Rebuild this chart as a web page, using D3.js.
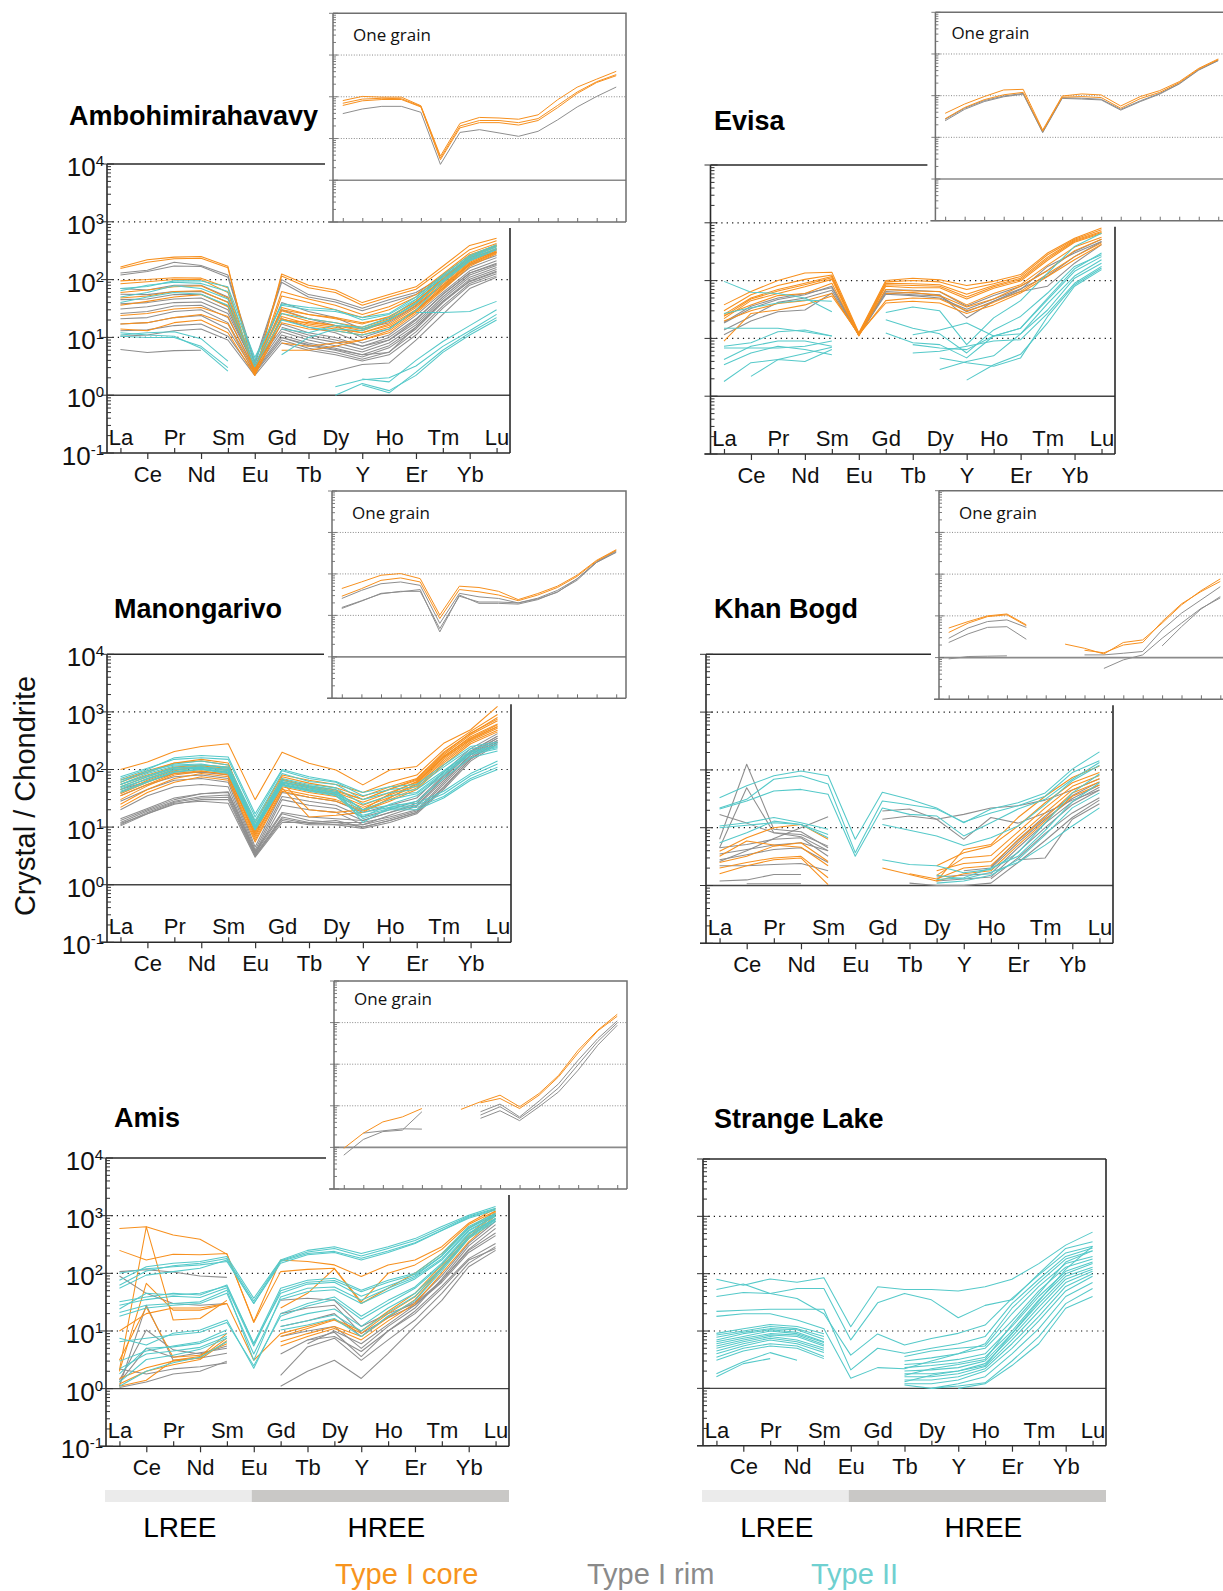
<!DOCTYPE html>
<html>
<head>
<meta charset="utf-8">
<script src="https://cdn.jsdelivr.net/npm/d3@7"></script>
<style>
  body { margin: 0; background: #fff; }
</style>
</head>
<body>
<script>
const _ = null

// element order on the x axis
const elements = ['La','Ce','Pr','Nd','Sm','Eu','Gd','Tb','Dy','Y','Ho','Er','Tm','Yb','Lu']
const upperRow = ['La','Pr','Sm','Gd','Dy','Ho','Tm','Lu']
const lowerRow = ['Ce','Nd','Eu','Tb','Y','Er','Yb']
const decades = [0.1, 1, 10, 100, 1000, 10000]
const gridDecades = [10, 100, 1000]
const reeGroups = ['LREE', 'HREE']
const legendLabels = ['Type I core', 'Type I rim', 'Type II']

// ---------- Ambohimirahavavy ----------
const amboCore = [
  [165,220,245,250,170,2.2,125,80,66,40,55,75,170,390,520],
  [155,200,230,235,160,2.3,115,72,60,36,50,68,150,330,470],
  [95,100,108,106,72,2.5,62,46,36,25,34,55,125,290,420],
  [85,92,100,100,60,2.4,52,40,30,22,30,50,118,270,390],
  [60,66,75,78,48,2.7,33,25,21,17,23,42,100,240,370],
  [48,52,62,64,40,2.9,29,21,18,15,21,38,92,225,345],
  [36,42,50,55,34,3.1,26,19,16,13,19,36,86,210,330],
  [24,26,31,33,23,2.6,23,17,15,12,17,33,80,200,315],
  [17,18,22,25,17,2.3,21,16,14,12,16,30,76,190,300],
  [14,13,18,20,12,2.2,18,14,13,11,15,28,70,180,290],
  [_,_,_,_,_,_,8,7,8,9,12,26,66,170,280],
  [_,_,_,_,_,_,6,6,7,9,13,28,72,190,300],
  [_,_,_,_,_,_,30,25,22,18,22,42,105,255,385],
  [_,_,_,_,_,_,20,18,16,14,20,40,100,250,400]
]
const amboRim = [
  [130,145,200,175,120,3.8,100,55,45,32,45,60,112,240,330],
  [120,138,172,168,110,3.4,90,50,41,29,40,55,100,220,300],
  [70,66,80,80,50,3.0,40,28,22,14,18,35,80,180,260],
  [56,55,62,62,41,3.0,30,21,16,10,14,30,70,160,240],
  [45,46,55,56,35,2.8,21,15,12,8,11,24,60,142,212],
  [38,40,46,48,30,3.0,17,12,10,7,10,21,55,130,192],
  [31,34,40,41,26,3.2,14,10,8.2,6.2,9,18,50,120,176],
  [26,28,35,36,22,2.8,12.5,9,7.2,5.6,8,16.5,46,110,162],
  [21,22,28,30,18,2.6,11,8,6.5,5,7.2,15,42,101,150],
  [17,18,22,24,14,2.5,10,7.2,6,4.6,6.6,14,40,95,140],
  [13,13.5,16,17,10.5,2.4,9,6.5,5.5,4.2,5.6,12.5,35,86,126],
  [10.5,11,13,14,9,2.2,8,6,5,3.9,5,11,32,80,116],
  [6.2,5.5,5.9,6,_,_,_,_,_,_,_,_,_,_,_],
  [_,_,_,_,_,_,_,2,2.6,3.4,3.6,9,25,70,110],
  [_,_,_,_,_,_,10,7.5,6.2,5,5.5,15,42,92,135],
  [_,_,_,_,_,_,15,11,9,7,9,20,56,130,185]
]
const amboII = [
  [70,76,95,95,75,4.5,36,30,28,22,26,50,120,262,400],
  [64,80,90,86,62,4.0,38,33,30,20,25,46,112,240,370],
  [50,60,78,70,46,3.5,26,21,18,14,20,38,100,230,350],
  [40,50,60,56,36,3.1,20,15,13,11,14,30,90,210,330],
  [10.5,10,10,7,3,_,_,_,_,_,_,_,_,_,_],
  [11,12,12.5,9.5,3.9,_,_,_,_,_,_,_,_,_,_],
  [12,11,10.5,6.5,2.6,_,_,_,_,_,_,_,_,_,_],
  [_,_,_,_,_,_,_,_,1.4,1.85,2.0,3.2,7,13,25],
  [_,_,_,_,_,_,_,_,_,1.5,1.1,2.5,6,12,22],
  [_,_,_,_,_,_,_,_,1.0,1.6,1.2,2.2,5.5,11,20],
  [_,_,_,_,_,_,_,_,_,1.9,1.7,4,8.5,16,30],
  [_,_,_,_,_,_,_,_,_,_,_,27,27,28,42],
  [_,_,_,_,_,_,14,12,16,15,22,45,110,250,380],
  [_,_,_,_,_,_,5,10,14,13,20,40,95,220,330]
]
const amboInsetCore = [
  [81,102,98,98,61,3.8,23,32,31,29,37,85,170,265,407],
  [70,88,92,90,59,3.4,20,27,27,24,30,62,130,230,340],
  [62,80,86,86,57,3.1,18,24,24,21,27,55,120,220,320]
]
const amboInsetRim = [
  [39.5,51,59,59,42.5,2.4,14,16.3,13.6,11.3,14.9,28,57,102,171]
]

// ---------- Evisa ----------
const evisaCore = [
  [38,65,100,135,140,12.5,100,110,103,82,97,127,300,540,810],
  [30,57,82,105,125,12,95,100,95,70,88,118,280,520,760],
  [26,50,70,90,118,11.6,90,88,85,58,82,110,255,500,710],
  [24,48,66,85,112,11.4,85,82,80,52,78,104,240,480,680],
  [22,45,60,78,105,11.2,80,75,75,48,74,98,225,460,650],
  [25,38,55,60,90,11,70,66,65,38,60,85,185,380,560],
  [9,27,31,38,54,12,41,44,41,27,38,61,118,230,420],
  [20,30,40,45,60,11.5,45,50,48,30,42,65,130,260,450],
  [_,_,_,_,_,_,60,62,55,35,48,80,150,330,520]
]
const evisaRim = [
  [18.5,33,47,57,80,11.6,61,57,54,29,44,70,176,300,475],
  [11.6,20,29,31,61,11.5,65,61,57,22.6,44,65,80,200,420],
  [19,36,50,60,75,11.5,70,68,64,36,55,80,150,320,520],
  [14,24,42,50,68,11.3,58,55,50,32,48,72,120,260,470]
]
const evisaII = [
  [97,63,60,50,29,_,_,_,_,_,_,_,_,_,_],
  [15,15,15,13,11,_,_,_,_,_,_,_,_,_,_],
  [7.3,8.4,13,14,11,_,_,_,_,_,_,_,_,_,_],
  [6.8,6.8,6.8,7.3,9,_,_,_,_,_,_,_,_,_,_],
  [4.3,7.3,9,9,7.3,_,_,_,_,_,_,_,_,_,_],
  [3.5,5.6,7.3,6.4,5.2,_,_,_,_,_,_,_,_,_,_],
  [1.8,3.8,4.3,4,6.4,_,_,_,_,_,_,_,_,_,_],
  [_,2.2,4.3,5.5,7,_,_,_,_,_,_,_,_,_,_],
  [27,34,41,46,44,_,_,_,_,_,_,_,_,_,_],
  [_,_,_,_,_,_,28,35,30,7.8,22.6,45,135,390,660],
  [_,_,_,_,_,_,21,15,12,5.6,14,24,61,176,280],
  [_,_,_,_,_,_,12.4,8.4,7.8,4.6,11,15,47,145,260],
  [_,_,_,_,_,_,_,7.8,6.8,6.4,11,12,31,110,200],
  [_,_,_,_,_,_,_,5.6,6,7.3,9,9.5,27,90,176],
  [_,_,_,_,_,_,_,_,4.6,3.8,3.3,4.6,24,85,165],
  [_,_,_,_,_,_,_,_,2.9,4,5,12,40,120,230],
  [_,_,_,_,_,_,_,_,_,1.9,3.5,5.3,18.5,80,155],
  [_,_,_,_,_,_,_,11.6,14,18.5,11,15,50,160,300]
]
const evisaInsetCore = [
  [37.7,63,95,137,142,15,98,110,104,56.5,95,132,217,453,760],
  [28,52,80,105,120,14,92,95,90,50,85,120,205,435,730]
]
const evisaInsetRim = [
  [25,47,72,94,109,12.9,86,83,79,45,72,109,190,410,690],
  [27,50,76,98,113,13.5,89,87,82,47,75,113,196,420,705]
]

// ---------- Manongarivo ----------
const manonCore = [
  [100,135,205,250,280,30,200,128,98,54,98,113,285,490,1250],
  [66,95,130,150,130,10,75,58,48,34,50,70,200,420,800],
  [55,80,110,120,110,9,68,52,44,30,45,65,180,400,700],
  [45,70,100,110,100,8,60,48,40,27,40,60,165,370,620],
  [38,60,90,100,90,7,55,44,37,24,36,55,150,340,560],
  [30,52,80,92,85,6.5,50,40,34,22,33,52,140,320,520],
  [25,45,70,85,75,6,45,36,30,20,30,48,130,300,480],
  [22,40,60,75,65,5.5,42,33,28,19,28,45,120,280,450],
  [60,90,130,140,120,12,80,65,55,40,60,80,220,460,900],
  [40,65,95,110,95,8.5,60,20,18,20,38,62,170,350,600],
  [35,55,85,95,80,7.5,48,15,16,18,32,58,160,330,550],
  [50,75,105,115,105,9.5,65,50,42,30,46,68,190,430,750]
]
const manonRim = [
  [13,20,30,38,40,3.5,17,13,12,12,15,20,60,180,350],
  [12,19,28,34,36,3.3,15,12,11,11,14,19,55,165,320],
  [11,18,27,32,33,3.2,14,11.5,12,10,13,18,50,150,300],
  [10.5,17,25,30,30,3.1,13,11,11,9.5,12,17,45,140,280],
  [11.5,17,26,28,26,3,12,12,13,10,13,18,48,155,300],
  [14,21,32,38,41,3.8,18,15,14,13,18,24,70,200,380],
  [45,62,85,90,80,4.5,40,33,28,18,24,32,90,230,420],
  [35,55,75,80,70,4,34,28,24,15,20,28,80,210,380],
  [28,45,65,70,60,3.6,30,24,21,13,18,26,75,195,350],
  [20,35,50,55,50,3.4,24,20,18,11,16,23,65,180,320]
]
const manonII = [
  [70,100,160,175,165,17,100,75,62,40,50,55,120,250,300],
  [75,105,150,160,150,15,95,70,60,35,45,50,110,230,280],
  [65,90,125,140,120,13,85,62,55,30,40,45,95,210,260],
  [55,85,115,120,110,12,70,55,48,25,35,40,90,200,250],
  [50,75,105,110,100,10,60,50,42,20,30,38,85,190,240],
  [45,70,100,105,90,9,55,45,38,15,25,35,80,180,230],
  [60,95,120,125,105,11,65,52,45,12,22,28,70,160,210],
  [40,60,90,100,85,9,52,42,35,14,20,20,32,65,100],
  [42,62,92,102,88,9.5,54,43,36,16,21,22,34,70,110],
  [48,68,98,108,95,10,58,46,39,18,22,24,38,78,125],
  [55,78,108,112,100,10.5,62,48,40,20,24,26,42,85,140]
]
const manonInsetCore = [
  [44.5,64,93,102,77,10.2,50.6,47,38,24,33.7,50.6,93,213,384],
  [29,44,70,80,64,8.4,42,37,31,22.6,31,47,87,204,370]
]
const manonInsetRim = [
  [25.6,40,58,64,53,6.4,34,28,25.6,20,26,40,76,190,340],
  [14.7,22,34,37,42,4,31,19.5,19.5,18.7,24,37,70,190,330],
  [15.5,22.5,33,38,38,4.8,29,21,21,20,25,36,76,195,360]
]

// ---------- Khan Bogd ----------
const khanCore = [
  [3.9,6.7,10,11.4,6.3,_,_,_,_,_,_,_,_,_,_],
  [2.5,3.2,4.8,5.5,2.6,_,_,_,_,_,_,_,_,_,_],
  [2.0,2.5,3.0,3.2,1.36,_,_,_,_,_,_,_,_,_,_],
  [1.6,2.2,2.8,3.0,1.04,_,_,_,_,_,_,_,_,_,_],
  [3.2,5.9,5,4.6,2.2,_,_,_,_,_,_,_,_,_,_],
  [_,_,_,_,_,_,2.0,1.55,1.2,4.2,5.1,15,35,74,117],
  [_,_,_,_,_,_,_,_,2.2,3.7,4.8,10.7,27,60,90],
  [_,_,_,_,_,_,_,_,1.5,3.0,3.3,8.5,22,52,80],
  [_,_,_,_,_,_,_,_,1.8,2.4,2.6,7,18,45,70],
  [_,_,_,_,_,_,_,1.6,1.3,2,2.2,6,15,40,62],
  [_,_,_,_,_,_,_,_,1.2,1.6,1.8,5,13,35,55]
]
const khanRim = [
  [6.3,125,9.4,8.5,4.5,_,_,_,_,_,_,_,_,_,_],
  [4.5,49,8.2,7,4,_,_,_,_,_,_,_,_,_,_],
  [17,12,8.2,7.6,4.8,_,_,_,_,_,_,_,_,_,_],
  [4.5,5.1,6.3,6.7,3.2,_,_,_,_,_,_,_,_,_,_],
  [2.8,3.4,4.2,4.5,2.5,_,_,_,_,_,_,_,_,_,_],
  [2.2,2.2,2.3,2.4,1.8,_,_,_,_,_,_,_,_,_,_],
  [1.2,1.25,1.55,1.55,_,_,_,_,_,_,_,_,_,_,_],
  [_,1.07,1.07,1.07,_,_,_,_,_,_,_,_,_,_,_],
  [2.6,4,6.5,10,15.5,_,_,_,_,_,_,_,_,_,_],
  [3.5,4.2,5.0,5.5,4,_,_,_,_,_,_,_,_,_,_],
  [_,_,_,_,_,_,19.5,21,14,6.3,15,12,18,30,45],
  [_,_,_,_,_,_,14,16,14,17,22,24,30,45,70],
  [_,_,_,_,_,_,_,1.1,1.0,1.0,1.1,2.5,6,15,30],
  [_,_,_,_,_,_,_,_,_,_,1.3,3,8,18,33],
  [_,_,_,_,_,_,_,_,1.2,1.3,1.4,3.8,10,25,45],
  [_,_,_,_,_,_,_,_,1.4,1.5,1.6,4.5,12,28,50],
  [_,_,_,_,_,_,_,_,_,1.8,2,5.5,14,32,55],
  [_,_,_,_,_,_,_,_,_,_,2.1,6.2,16,36,62],
  [_,_,_,_,_,_,_,_,_,_,_,2.8,3,14,26]
]
const khanII = [
  [33,53,79,96,79,6.3,41,31,22,12.2,21,27,40,103,205],
  [22,31,69,79,57,3.7,29,25,21,12.5,18,24,35,90,144],
  [21,29,43,46,38,3.2,22,17,16,7.2,12.2,21,31,69,134],
  [10.7,12.2,15,12.2,9.4,_,11.4,9,7.2,4.9,6.7,10.7,25,65,120],
  [5.5,8.2,13,11.4,6.7,_,_,_,_,_,_,_,_,_,_],
  [10,11,12.2,11.4,7.6,_,_,_,_,_,_,_,_,_,_],
  [_,_,_,_,_,_,2.8,2.3,2.2,1.66,1.9,3.7,12,40,85],
  [_,_,_,_,_,_,_,_,1.27,1.36,2.0,3.2,9,28,60],
  [_,_,_,_,_,_,_,_,1.1,1.2,1.5,2.8,7.5,22,40],
  [_,_,_,_,_,_,_,_,1.5,1.3,1.7,2.5,5,10.7,22]
]
const khanInsetCore = [
  [5.1,7.3,10,11.1,6.1,_,2.1,1.67,1.22,2.3,2.65,6.7,18.3,40,77],
  [4,6.7,9.6,10.6,5.8,_,_,1.5,1.3,2.0,2.3,7.3,19.4,38,67]
]
const khanInsetRim = [
  [2.9,5.1,7.3,8,5.3,_,_,1.16,1.16,1.27,1.4,4.6,11.6,24,50],
  [2.3,3.7,5.3,5.5,2.75,_,_,_,0.55,0.88,1.16,2.9,6.7,15,27],
  [0.93,1.06,1.08,1.1,_,_,_,_,_,_,_,_,_,_,_],
  [_,_,_,_,_,_,_,_,_,_,_,1.9,5.5,14.5,29]
]

// ---------- Amis ----------
const amisCore = [
  [600,640,460,390,215,14.5,170,160,140,88,140,170,290,740,1330],
  [250,170,215,210,220,14,107,117,122,32,100,140,260,700,1200],
  [2.1,640,15.5,16.5,34,_,_,_,_,_,_,_,_,_,_],
  [2,67,23,23,30,_,_,_,_,_,_,_,_,_,_],
  [1.1,1.4,3.1,3.6,9.1,_,_,_,_,_,_,_,_,_,_],
  [3.1,26,3.5,3.8,6,_,_,_,_,_,_,_,_,_,_],
  [1.5,2.3,3.0,3.4,7.5,_,_,_,_,_,_,_,_,_,_],
  [1.2,2,2.6,3.2,6.8,_,_,_,_,_,_,_,_,_,_],
  [_,_,_,_,_,_,8,11,15.5,9.1,20,39,130,430,1100],
  [_,_,_,_,_,_,6.5,9,12,8,17,35,120,400,1000],
  [_,_,_,_,_,_,5.5,8,11,7,15,30,100,350,900],
  [_,_,_,_,_,_,25,45,120,30,55,100,220,600,1200],
  [10,20,25,25,30,3.1,9,12,16,10,22,45,140,470,1150]
]
const amisRim = [
  [107,115,105,90,85,_,_,_,_,_,_,_,_,_,_],
  [90,45,30,28,30,_,_,_,_,_,_,_,_,_,_],
  [1.1,28,3.1,3.4,4.1,_,_,_,_,_,_,_,_,_,_],
  [1.4,10.4,4.7,4,5.5,_,_,_,_,_,_,_,_,_,_],
  [1.3,5,3.5,4.2,5,_,_,_,_,_,_,_,_,_,_],
  [2.2,1.8,2.2,2.4,2.8,_,_,_,_,_,_,_,_,_,_],
  [1.05,1.3,1.8,2,3,_,_,_,_,_,_,_,_,_,_],
  [_,_,_,_,_,_,34,37,34,12,20,30,75,250,500],
  [_,_,_,_,_,_,20,25,28,9,17,28,70,230,450],
  [_,_,_,_,_,_,1.1,2,3.1,1.5,4.1,12,34,130,250],
  [_,_,_,_,_,_,1.7,5.3,7.5,3.1,7,15.5,45,150,290],
  [_,_,_,_,_,_,_,7,8,4.4,10,22,60,180,330],
  [_,_,_,_,_,_,_,6,10,6,13,28,75,260,600],
  [_,_,_,_,_,_,12,15,20,8,18,32,90,330,800],
  [_,_,_,_,_,_,8,10,12,5,12,25,80,300,700],
  [_,_,_,_,_,_,4,7,9.5,3.6,10,20,55,170,270]
]
const amisII = [
  [76,130,150,160,195,37,170,250,290,220,290,400,650,1020,1440],
  [62,110,135,150,180,33,165,235,270,200,270,370,600,980,1350],
  [55,93,107,122,170,30,160,220,240,182,245,340,560,940,1300],
  [100,120,130,140,160,30,150,210,230,170,230,330,550,900,1250],
  [32,39,45,42,63,6.1,55,76,82,51,76,100,220,650,1100],
  [28,35,40,38,56,5.5,50,70,75,48,70,95,200,600,1050],
  [24,45,42,45,60,6,45,65,70,40,60,90,200,620,1050],
  [21,28,30,32,51,3.1,39,55,58,34,55,85,180,560,1000],
  [18,25,28,30,45,4,35,48,52,30,50,80,170,540,980],
  [7.5,5.7,9.1,10.4,15.5,2.25,20,30,39,18,34,58,150,500,900],
  [6.5,7.5,8.5,9.5,14,2.5,18,27,35,16,30,55,140,480,880],
  [1.8,5,5.3,6.1,9.1,_,_,_,_,_,_,_,_,_,_],
  [2.2,4,4.5,5.2,8,_,_,_,_,_,_,_,_,_,_],
  [1.3,3.2,3.8,4.8,7.5,_,_,_,_,_,_,_,_,_,_],
  [1.1,2,2.8,3.5,6.5,_,_,_,_,_,_,_,_,_,_],
  [3,4.5,5.5,6.5,10.5,_,_,_,_,_,_,_,_,_,_],
  [_,_,_,_,_,_,10.4,12.7,16.5,8,18,34,110,400,800],
  [_,_,_,_,_,_,12,15,19,10,21,40,120,420,850],
  [_,_,_,_,_,_,15,20,24,12,25,45,125,440,880]
]
const amisInsetCore = [
  [0.95,2.2,4.1,5.4,8.6,_,8.2,12.5,18,9.5,19.8,54,217,655,1585],
  [_,_,_,_,_,_,_,11.8,15,8.6,18,50,187,630,1420]
]
const amisInsetRim = [
  [0.65,1.55,2.4,2.6,7.2,_,_,_,_,_,_,_,_,_,_],
  [_,2.2,2.5,2.8,2.75,_,_,_,_,_,_,_,_,_,_],
  [_,_,_,_,_,_,_,7.2,11,5.4,13,34,125,410,1100],
  [_,_,_,_,_,_,_,5,7.6,4.4,9.5,21.6,72,285,860],
  [_,_,_,_,_,_,_,6,9.5,5,11,27,98,350,980]
]

// ---------- Strange Lake ----------
const strangeII = [
  [80,63,81,71,85,11.9,59,53,53,50,59,80,150,315,530],
  [53,66,45,55,55,7,31,45,35,17,28,35,100,275,360],
  [40,47,45,37,20,3.8,8.9,5.7,7.4,9.1,12.7,37,95,230,300],
  [22,23,24,24,24,2.1,5,4.1,5,6,8,30,80,200,280],
  [18,20,20,15.5,11,1.5,2.3,2.2,3,4,6,25,70,180,250],
  [9.1,11,13,12,9,_,_,_,_,_,_,_,_,_,_],
  [8.5,10,12,11,8,_,_,_,_,_,_,_,_,_,_],
  [7.8,9.5,11,10.5,7.2,_,_,_,_,_,_,_,_,_,_],
  [7,9,10.5,9.5,6.5,_,_,_,_,_,_,_,_,_,_],
  [6.5,8,10,9,6.3,_,_,_,_,_,_,_,_,_,_],
  [6,7.5,9,8.5,5.8,_,_,_,_,_,_,_,_,_,_],
  [5.5,7,8.5,8,5.5,_,_,_,_,_,_,_,_,_,_],
  [5,6.5,8,7,5,_,_,_,_,_,_,_,_,_,_],
  [4.5,6,7.5,6.5,4.6,_,_,_,_,_,_,_,_,_,_],
  [4,5.5,7,6,4.2,_,_,_,_,_,_,_,_,_,_],
  [3.5,5,6,5.5,3.6,_,_,_,_,_,_,_,_,_,_],
  [3.1,4.5,5.5,5,3.3,_,_,_,_,_,_,_,_,_,_],
  [1.8,2.9,4.2,3.1,_,_,_,_,_,_,_,_,_,_,_],
  [1.6,2.7,3.3,_,_,_,_,_,_,_,_,_,_,_,_],
  [_,_,_,_,_,_,_,3.6,4.5,5,5.5,20,60,150,200],
  [_,_,_,_,_,_,_,3,3.4,4,5,15,50,130,180],
  [_,_,_,_,_,_,_,2.6,2.8,3.2,4,12,40,110,160],
  [_,_,_,_,_,_,_,2.3,2.5,2.8,3.5,10,35,100,150],
  [_,_,_,_,_,_,_,2,2.1,2.3,3,9,30,90,130],
  [_,_,_,_,_,_,_,1.8,1.8,2,2.7,8,26,80,120],
  [_,_,_,_,_,_,_,1.6,1.6,1.8,2.4,7,22,70,110],
  [_,_,_,_,_,_,_,1.4,1.4,1.6,2.2,6,18,60,100],
  [_,_,_,_,_,_,_,1.2,1.2,1.4,2,5,15,50,90],
  [_,_,_,_,_,_,_,1.14,1.0,1.2,1.6,4,11,40,70],
  [_,_,_,_,_,_,_,_,1.0,1.1,1.25,3,8,30,55],
  [_,_,_,_,_,_,_,_,_,1.0,1.2,2.5,6,25,40],
  [_,_,_,_,_,_,_,1.7,2.2,2.6,3.2,13,45,160,250],
  [_,_,_,_,_,_,_,1.3,1.7,2.0,2.5,9,33,120,300]
]

const colors = { core: '#f7901e', rim: '#8e8e8e', type2: '#55c9c9' }
const legendColors = ['#f7941d', '#8a8a8a', '#6fd0d0']
const FONT = '"Liberation Sans", Arial, Helvetica, sans-serif'

const panels = [
  { title: 'Ambohimirahavavy', tx: 69, ty: 125, left: 107, right: 510, top: 164, bottom: 453, labels: true,
    series: [[amboRim, 'rim'], [amboCore, 'core'], [amboII, 'type2']],
    inset: { left: 333, right: 626, top: 13.3, bottom: 222, tdy: 28,
             series: [[amboInsetRim, 'rim'], [amboInsetCore, 'core']] } },
  { title: 'Evisa', tx: 714, ty: 130, left: 710.5, right: 1115, top: 165, bottom: 454, labels: false,
    series: [[evisaRim, 'rim'], [evisaCore, 'core'], [evisaII, 'type2']],
    inset: { left: 935.4, right: 1228, top: 12.3, bottom: 220.7, tdy: 27, tdx: 16,
             series: [[evisaInsetRim, 'rim'], [evisaInsetCore, 'core']] } },
  { title: 'Manongarivo', tx: 114, ty: 618, left: 107, right: 511, top: 654.3, bottom: 942.3, labels: true,
    series: [[manonRim, 'rim'], [manonCore, 'core'], [manonII, 'type2']],
    inset: { left: 332, right: 626, top: 491, bottom: 698.3, tdy: 28,
             series: [[manonInsetRim, 'rim'], [manonInsetCore, 'core']] } },
  { title: 'Khan Bogd', tx: 714, ty: 618, left: 706, right: 1113, top: 654.3, bottom: 943.3, labels: false,
    series: [[khanRim, 'rim'], [khanCore, 'core'], [khanII, 'type2']],
    inset: { left: 939, right: 1230, top: 490.7, bottom: 699.3, tdy: 28.6,
             series: [[khanInsetRim, 'rim'], [khanInsetCore, 'core']] } },
  { title: 'Amis', tx: 114, ty: 1127, left: 106, right: 509, top: 1158, bottom: 1446.3, labels: true, ree: true,
    series: [[amisRim, 'rim'], [amisCore, 'core'], [amisII, 'type2']],
    inset: { left: 334, right: 627, top: 981, bottom: 1189, tdy: 24,
             series: [[amisInsetRim, 'rim'], [amisInsetCore, 'core']] } },
  { title: 'Strange Lake', tx: 714, ty: 1128, left: 703, right: 1106, top: 1159, bottom: 1445.7, labels: false, ree: true,
    series: [[strangeII, 'type2']] }
]

const svg = d3.select('body').append('svg')
    .attr('width', 1223)
    .attr('height', 1591)
    .style('display', 'block')

function drawSeries(g, series, x, y, width) {
  var line = d3.line()
      .defined(d => d != null)
      .x((d, i) => x(elements[i]))
      .y(d => y(d))
  series.forEach(function(s) {
    g.append('g').selectAll('path')
      .data(s[0])
      .join('path')
        .attr('d', line)
        .attr('fill', 'none')
        .attr('stroke', colors[s[1]])
        .attr('stroke-width', width)
        .attr('stroke-linejoin', 'round')
  })
}

function isDecade(v) {
  var l = Math.log10(v)
  return Math.abs(l - Math.round(l)) < 1e-6
}

function drawPanel(p) {
  var g = svg.append('g')
  var x = d3.scalePoint().domain(elements).range([p.left, p.right]).padding(0.5)
  var y = d3.scaleLog().domain([0.1, 1e4]).range([p.bottom, p.top])

  // dotted grid
  g.selectAll('line.grid')
    .data(gridDecades)
    .join('line')
      .attr('x1', p.left).attr('x2', p.right)
      .attr('y1', d => y(d)).attr('y2', d => y(d))
      .attr('stroke', '#111')
      .attr('stroke-width', 1.2)
      .attr('stroke-dasharray', '1.2,4.2')
  g.append('line')
    .attr('x1', p.left).attr('x2', p.right)
    .attr('y1', y(1)).attr('y2', y(1))
    .attr('stroke', '#444').attr('stroke-width', 1.4)

  drawSeries(g, p.series, x, y, 1.05)

  // frame
  var topEnd = p.inset ? p.inset.left - 8 : p.right
  var rightStart = p.inset ? p.inset.bottom + 6 : p.top
  var frame = 'M' + p.left + ',' + p.top + 'H' + topEnd +
              'M' + p.right + ',' + rightStart + 'V' + p.bottom +
              'M' + p.left + ',' + p.top + 'V' + p.bottom +
              'M' + (p.left - 6) + ',' + p.bottom + 'H' + p.right
  g.append('path').attr('d', frame).attr('fill', 'none')
    .attr('stroke', '#2a2a2a').attr('stroke-width', 1.6)

  // y ticks: major crossing, minor inside
  g.append('g').selectAll('line')
    .data(y.ticks())
    .join('line')
      .attr('x1', d => isDecade(d) ? p.left - 6 : p.left)
      .attr('x2', d => isDecade(d) ? p.left + 7 : p.left + 4)
      .attr('y1', d => y(d)).attr('y2', d => y(d))
      .attr('stroke', '#333').attr('stroke-width', 1)

  if (p.labels) {
    var lab = g.append('g').selectAll('text')
      .data(decades)
      .join('text')
        .attr('x', p.left - 3)
        .attr('y', d => y(d) + 12)
        .attr('text-anchor', 'end')
        .attr('font-family', FONT)
        .attr('font-size', 26)
        .attr('fill', '#111')
        .text('10')
    lab.append('tspan')
      .attr('font-size', 15)
      .attr('dy', -10)
      .text(d => String(Math.round(Math.log10(d))))
  }

  // x axis: lower row labels below, upper row labels inside
  var axLow = g.append('g')
      .attr('transform', 'translate(0,' + p.bottom + ')')
      .call(d3.axisBottom(x).tickValues(lowerRow).tickSize(6).tickPadding(7))
  var axUp = g.append('g')
      .attr('transform', 'translate(0,' + p.bottom + ')')
      .call(d3.axisTop(x).tickValues(upperRow).tickSize(5).tickPadding(3))
  ;[axLow, axUp].forEach(function(a) {
    a.select('.domain').remove()
    a.selectAll('line').attr('stroke', '#333').attr('stroke-width', 1.2)
    a.selectAll('text').attr('font-family', FONT).attr('font-size', 22).attr('fill', '#111')
  })

  if (p.inset) drawInset(p.inset)

  g.append('text')
    .attr('x', p.tx).attr('y', p.ty)
    .attr('font-family', FONT).attr('font-size', 27).attr('font-weight', 'bold')
    .attr('fill', '#000')
    .text(p.title)

  if (p.ree) {
    var split = x('Eu') - 2
    var bars = [[p.left - 1, split, '#ebebeb'], [split, p.right, '#c9c8c6']]
    g.append('g').selectAll('rect')
      .data(bars)
      .join('rect')
        .attr('x', d => d[0]).attr('width', d => d[1] - d[0])
        .attr('y', 1490).attr('height', 12)
        .attr('fill', d => d[2])
    var centers = [(p.left + x('Eu')) / 2, (x('Eu') + p.right) / 2 + 5]
    g.append('g').selectAll('text')
      .data(reeGroups)
      .join('text')
        .attr('x', (d, i) => centers[i])
        .attr('y', 1537)
        .attr('text-anchor', 'middle')
        .attr('font-family', FONT).attr('font-size', 28)
        .attr('fill', '#000')
        .text(d => d)
  }
}

function drawInset(q) {
  var g = svg.append('g')
  var x = d3.scalePoint().domain(elements).range([q.left, q.right]).padding(0.5)
  var y = d3.scaleLog().domain([0.1, 1e4]).range([q.bottom, q.top])

  g.append('rect')
    .attr('x', q.left - 7).attr('y', q.top - 1)
    .attr('width', q.right - q.left + 10).attr('height', q.bottom - q.top + 6)
    .attr('fill', '#fff')

  g.selectAll('line.grid')
    .data(gridDecades)
    .join('line')
      .attr('x1', q.left).attr('x2', q.right)
      .attr('y1', d => y(d)).attr('y2', d => y(d))
      .attr('stroke', '#8a8a8a')
      .attr('stroke-width', 1)
      .attr('stroke-dasharray', '1,1.6')
  g.append('line')
    .attr('x1', q.left).attr('x2', q.right)
    .attr('y1', y(1)).attr('y2', y(1))
    .attr('stroke', '#8a8a8a').attr('stroke-width', 1.6)

  drawSeries(g, q.series, x, y, 1)

  var frame = 'M' + q.left + ',' + q.top + 'H' + q.right + 'V' + q.bottom +
              'M' + q.left + ',' + q.top + 'V' + q.bottom +
              'M' + (q.left - 5) + ',' + q.bottom + 'H' + q.right
  g.append('path').attr('d', frame).attr('fill', 'none')
    .attr('stroke', '#6f6f6f').attr('stroke-width', 1.5)

  g.append('g').selectAll('line')
    .data(y.ticks())
    .join('line')
      .attr('x1', d => isDecade(d) ? q.left - 4 : q.left)
      .attr('x2', d => isDecade(d) ? q.left + 5 : q.left + 3)
      .attr('y1', d => y(d)).attr('y2', d => y(d))
      .attr('stroke', '#6f6f6f').attr('stroke-width', 0.9)

  var ax = g.append('g')
      .attr('transform', 'translate(0,' + q.bottom + ')')
      .call(d3.axisTop(x).tickSize(4).tickFormat(''))
  ax.select('.domain').remove()
  ax.selectAll('line').attr('stroke', '#6f6f6f').attr('stroke-width', 1)

  g.append('text')
    .attr('x', q.left + (q.tdx || 20))
    .attr('y', q.top + q.tdy)
    .attr('font-family', '"Open Sans", "Noto Sans", sans-serif')
    .attr('font-size', 17)
    .attr('fill', '#111')
    .text('One grain')
}

panels.forEach(drawPanel)

// y axis title
svg.append('text')
    .attr('transform', 'translate(35,796) rotate(-90)')
    .attr('text-anchor', 'middle')
    .attr('font-family', FONT)
    .attr('font-size', 29)
    .attr('fill', '#111')
    .text('Crystal / Chondrite')

// legend
const legendX = [335, 587, 811]
svg.append('g').selectAll('text')
  .data(legendLabels)
  .join('text')
    .attr('x', (d, i) => legendX[i])
    .attr('y', 1584)
    .attr('font-family', FONT)
    .attr('font-size', 29)
    .attr('fill', (d, i) => legendColors[i])
    .text(d => d)
</script>
</body>
</html>
